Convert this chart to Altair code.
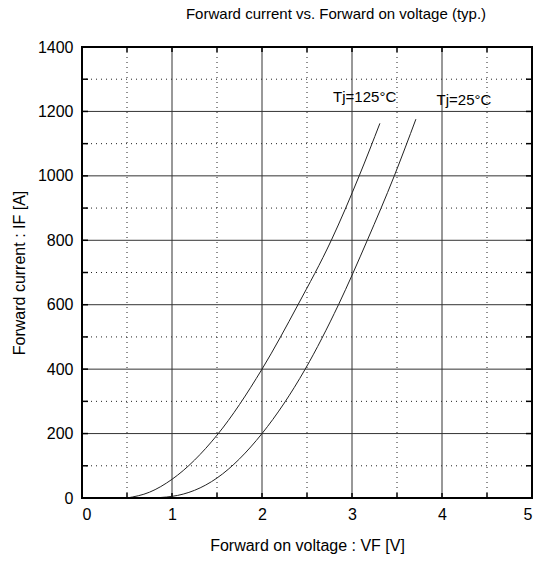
import altair as alt
import pandas as pd

# Tj = 125 C curve
v125 = [0.5, 0.75, 1.0, 1.5, 2.0, 2.4, 2.77, 3.08, 3.31]
i125 = [0, 18, 58, 195, 400, 600, 800, 1000, 1163]
# Tj = 25 C curve
v25 = [0.75, 1.0, 1.5, 2.0, 2.48, 2.85, 3.17, 3.47, 3.71]
i25 = [0, 5, 62, 200, 400, 600, 800, 1000, 1176]

x_ticks = [0, 1, 2, 3, 4, 5]
y_ticks = [0, 200, 400, 600, 800, 1000, 1200, 1400]
major_x = [1, 2, 3, 4]
minor_x = [0.5, 1.5, 2.5, 3.5, 4.5]
major_y = [200, 400, 600, 800, 1000, 1200]
minor_y = [100, 300, 500, 700, 900, 1100, 1300]
tick_x = [0.5, 1, 1.5, 2, 2.5, 3, 3.5, 4, 4.5]
tick_y = [100, 200, 300, 400, 500, 600, 700, 800, 900, 1000, 1100, 1200, 1300]

label_text = ["Tj=125°C", "Tj=25°C"]
label_v = [2.79, 3.94]
label_i = [1245, 1235]

FONT = "Liberation Sans"
W, H = 450, 451

xs = alt.Scale(domain=[0, 5], nice=False, zero=False)
ys = alt.Scale(domain=[0, 1400], nice=False)

curves = pd.DataFrame({
    "v": v125 + v25,
    "i": i125 + i25,
    "series": ["125"] * len(v125) + ["25"] * len(v25),
    "order": list(range(len(v125))) + list(range(len(v25))),
})

x_axis = alt.Axis(values=x_ticks, ticks=False, domain=False, grid=False, format="d",
                  labelFont=FONT, labelFontSize=16, labelColor="black", labelPadding=8,
                  title="Forward on voltage : VF [V]", titleFont=FONT, titleFontSize=16,
                  titleFontWeight="normal", titleColor="black", titlePadding=15)
y_axis = alt.Axis(values=y_ticks, ticks=False, domain=False, grid=False, format="d",
                  labelFont=FONT, labelFontSize=16, labelColor="black", labelPadding=9,
                  title="Forward current : IF [A]", titleFont=FONT, titleFontSize=16,
                  titleFontWeight="normal", titleColor="black", titlePadding=10)


def X(f):
    return alt.X(f, scale=xs, axis=x_axis)


def Y(f):
    return alt.Y(f, scale=ys, axis=y_axis)


lines = alt.Chart(curves).mark_line(color="#222222", strokeWidth=1, interpolate="monotone").encode(
    x=X("v:Q"),
    y=Y("i:Q"),
    detail="series:N",
    order="order:Q",
)


def vrules(vals, dash, color):
    df = pd.DataFrame({"v": vals})
    kw = dict(color=color, strokeWidth=1)
    if dash:
        kw["strokeDash"] = dash
    return alt.Chart(df).mark_rule(**kw).encode(x=X("v:Q"))


def hrules(vals, dash, color):
    df = pd.DataFrame({"i": vals})
    kw = dict(color=color, strokeWidth=1)
    if dash:
        kw["strokeDash"] = dash
    return alt.Chart(df).mark_rule(**kw).encode(y=Y("i:Q"))


grid_major_x = vrules(major_x, None, "#333333")
grid_major_y = hrules(major_y, None, "#333333")
grid_minor_x = vrules(minor_x, [1, 4], "#222222")
grid_minor_y = hrules(minor_y, [1, 4], "#222222")

tx = pd.DataFrame({"v": tick_x})
ty = pd.DataFrame({"i": tick_y})
ticks_bottom = alt.Chart(tx).mark_rule(color="black", strokeWidth=1.5).encode(
    x=X("v:Q"), y=alt.value(H - 5), y2=alt.value(H))
ticks_top = alt.Chart(tx).mark_rule(color="black", strokeWidth=1.5).encode(
    x=X("v:Q"), y=alt.value(0), y2=alt.value(5))
ticks_left = alt.Chart(ty).mark_rule(color="black", strokeWidth=1.5).encode(
    y=Y("i:Q"), x=alt.value(0), x2=alt.value(6))
ticks_right = alt.Chart(ty).mark_rule(color="black", strokeWidth=1.5).encode(
    y=Y("i:Q"), x=alt.value(W - 6), x2=alt.value(W))

frame = alt.Chart(pd.DataFrame({"k": [0]})).mark_rect(
    fillOpacity=0, stroke="black", strokeWidth=2
).encode(x=alt.value(0), x2=alt.value(W), y=alt.value(0), y2=alt.value(H))

labels = alt.Chart(pd.DataFrame({"v": label_v, "i": label_i, "t": label_text})).mark_text(
    align="left", baseline="middle", font=FONT, fontSize=15, color="black"
).encode(
    x=X("v:Q"),
    y=Y("i:Q"),
    text="t:N",
)

chart = alt.layer(
    grid_minor_x, grid_minor_y, grid_major_x, grid_major_y,
    ticks_bottom, ticks_top, ticks_left, ticks_right,
    lines, labels, frame,
).properties(
    width=W, height=H,
    background="white",
    title=alt.TitleParams("Forward current vs. Forward on voltage (typ.)",
                          font=FONT, fontSize=15, fontWeight="normal", color="black",
                          anchor="middle", dx=29, offset=17),
    autosize=alt.AutoSizeParams(type="none"),
    padding={"left": 82, "top": 47, "right": 4, "bottom": 63},
).configure_view(
    stroke=None
)

chart.save("out.html", embed_options={"renderer": "svg", "actions": False})
